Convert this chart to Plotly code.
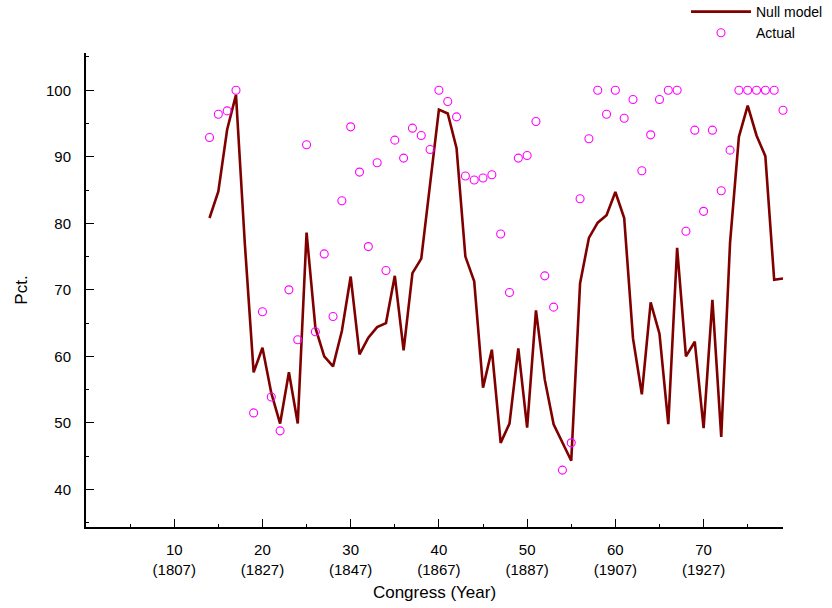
import plotly.graph_objects as go

congress = list(range(14, 80))

null_model = [80.8, 84.8, 94.1, 99.3, 77.0, 57.6, 61.3, 54.5, 49.9, 57.6,
              49.9, 78.6, 64.3, 60.0, 58.5, 63.8, 72.0, 60.3, 62.8, 64.4,
              65.0, 72.1, 60.9, 72.5, 74.7, 86.0, 97.1, 96.5, 91.3, 75.0,
              71.3, 55.3, 61.0, 47.0, 49.9, 61.2, 49.3, 66.9, 56.5, 49.8,
              47.0, 44.3, 71.0, 77.8, 80.1, 81.2, 84.7, 80.8, 62.7, 54.3,
              68.1, 63.4, 49.8, 76.3, 60.0, 62.2, 49.2, 68.5, 47.9, 77.1,
              93.0, 97.7, 93.2, 90.1, 71.5, 71.7]

actual = [92.9, 96.4, 96.9, 100.0, None, 51.5, 66.7, 53.9, 48.8, 70.0,
          62.5, 91.8, 63.7, 75.4, 66.0, 83.4, 94.5, 87.7, 76.5, 89.1,
          72.9, 92.5, 89.8, 94.3, 93.2, 91.1, 100.0, 98.3, 96.0, 87.1,
          86.5, 86.8, 87.3, 78.4, 69.6, 89.8, 90.2, 95.3, 72.1, 67.4,
          42.9, 47.0, 83.7, 92.7, 100.0, 96.4, 100.0, 95.8, 98.6, 87.9,
          93.3, 98.6, 100.0, 100.0, 78.8, 94.0, 81.8, 94.0, 84.9, 91.0,
          100.0, 100.0, 100.0, 100.0, 100.0, 97.0]

x_tickvals = [10, 20, 30, 40, 50, 60, 70]
x_ticktext = ["10<br>(1807)", "20<br>(1827)", "30<br>(1847)", "40<br>(1867)",
              "50<br>(1887)", "60<br>(1907)", "70<br>(1927)"]
y_tickvals = [40, 50, 60, 70, 80, 90, 100]

FONT = "Liberation Sans, Arial, sans-serif"

fig = go.Figure()
fig.add_trace(go.Scatter(
    x=congress, y=null_model, mode="lines", name="Null model",
    line=dict(color="#800000", width=2.6), cliponaxis=False,
))
fig.add_trace(go.Scatter(
    x=congress, y=actual, mode="markers", name="Actual",
    marker=dict(symbol="circle-open", color="#FF00FF", size=8,
                line=dict(width=1.1, color="#FF00FF")),
    cliponaxis=False,
))

fig.update_layout(
    width=832, height=608,
    margin=dict(l=86, r=49, t=53, b=81, autoexpand=False),
    paper_bgcolor="white", plot_bgcolor="white",
    font=dict(family=FONT, color="black", size=15),
    showlegend=True,
    legend=dict(x=(686 - 86) / 697, y=1 + 57 / 474, xanchor="left", yanchor="top",
                font=dict(size=14, family=FONT, color="black"),
                bgcolor="rgba(0,0,0,0)", itemwidth=60,
                tracegroupgap=0),
)

fig.update_xaxes(
    range=[0, 79], showgrid=False, zeroline=False,
    showline=True, linecolor="black", linewidth=2,
    ticks="inside", ticklen=8, tickwidth=1.3, tickcolor="black",
    tickvals=x_tickvals, ticktext=x_ticktext,
    tickfont=dict(size=15, family=FONT, color="black"),
    ticklabelstandoff=8,
    minor=dict(tickvals=[5, 15, 25, 35, 45, 55, 65, 75], ticks="inside",
               ticklen=3, tickwidth=1, tickcolor="black"),
    title=dict(text="Congress (Year)", font=dict(size=17, family=FONT, color="black"),
               standoff=10),
)
fig.update_yaxes(
    range=[34.35, 105.6], showgrid=False, zeroline=False,
    showline=True, linecolor="black", linewidth=2,
    ticks="inside", ticklen=8, tickwidth=1.3, tickcolor="black",
    tickvals=y_tickvals,
    tickfont=dict(size=15, family=FONT, color="black"),
    ticklabelstandoff=10,
    minor=dict(tickvals=[35, 45, 55, 65, 75, 85, 95, 105], ticks="inside",
               ticklen=3, tickwidth=1, tickcolor="black"),
    title=dict(text="Pct.", font=dict(size=17, family=FONT, color="black"),
               standoff=14),
)

fig.write_html("out.html")
